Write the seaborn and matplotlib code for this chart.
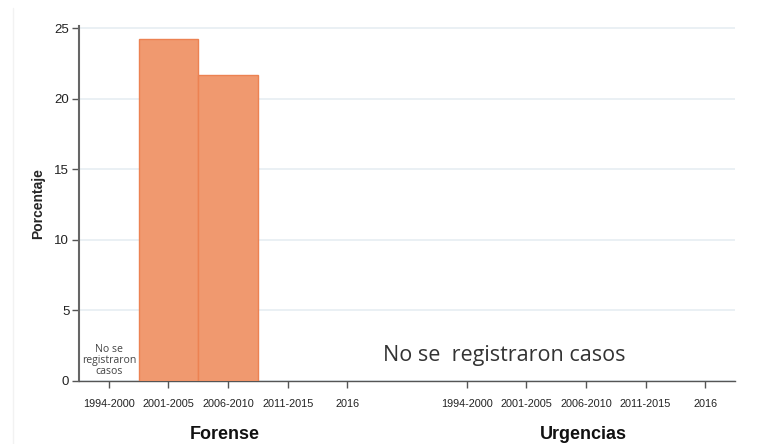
import numpy as np
import pandas as pd
import seaborn as sns
import matplotlib.pyplot as plt
from matplotlib.lines import Line2D

# ==========================================
# DATA
# ==========================================

periodos = ["1994-2000", "2001-2005", "2006-2010", "2011-2015", "2016"]
grupos = ["Forense", "Urgencias"]
forense = [np.nan, 24.2, 21.7, np.nan, np.nan]
urgencias = [np.nan, np.nan, np.nan, np.nan, np.nan]
y_ticks = [0, 5, 10, 15, 20, 25]

# ==========================================
# TABLE
# ==========================================

rows = []
for g, (grupo, valores) in enumerate(zip(grupos, [forense, urgencias])):
    for i, (periodo, v) in enumerate(zip(periodos, valores)):
        rows.append({
            "grupo": grupo,
            "periodo": periodo,
            "pos": g * (len(periodos) + 1) + i,
            "valor": v
        })
df = pd.DataFrame(rows)

# ==========================================
# PLOT
# ==========================================

sns.set_style("white")
plt.rcParams["font.family"] = ["Liberation Sans", "DejaVu Sans"]

fig = plt.figure(figsize=(7.62, 4.44), dpi=100)
ax = fig.add_axes([0.1037, 0.1419, 0.8609, 0.7995])

bars = df.dropna(subset=["valor"])
sns.barplot(
    data=bars,
    x="pos",
    y="valor",
    native_scale=True,
    width=1.0,
    color="#F0996F",
    saturation=1,
    edgecolor="#EC8252",
    linewidth=1.0,
    ax=ax,
    zorder=3
)

ax.set_xlim(-0.5, 10.5)
ax.set_ylim(0, 25.15)
ax.set_yticks(y_ticks)
ax.set_yticklabels([str(t) for t in y_ticks], fontsize=9.5, color="#222222")
ax.set_xticks(df["pos"])
ax.set_xticklabels(df["periodo"], fontsize=7.8, color="#222222")
ax.tick_params(axis="both", direction="out", length=5, width=1,
               color="#555555", bottom=True, left=True)
ax.tick_params(axis="x", pad=8)
ax.tick_params(axis="y", pad=2)

ax.grid(axis="y", color="#E6EDF2", linewidth=1.2, zorder=0)
ax.set_axisbelow(True)

for s in ["top", "right"]:
    ax.spines[s].set_visible(False)
ax.spines["left"].set_color("#666666")
ax.spines["left"].set_linewidth(1.5)
ax.spines["bottom"].set_color("#555555")
ax.spines["bottom"].set_linewidth(1.0)

ax.set_xlabel("")
ax.set_ylabel("Porcentaje", fontsize=10, fontweight="bold", labelpad=7)

# group titles
for g, grupo in enumerate(grupos):
    centro = g * (len(periodos) + 1) + (len(periodos) - 1) / 2
    ax.text(centro - 0.05, -0.152, grupo, transform=ax.get_xaxis_transform(),
            ha="center", va="center", fontsize=13, fontweight="bold",
            color="#111111")

# no-data notes
ax.text(0, 1.45, "No se\nregistraron\ncasos", ha="center", va="center",
        fontsize=7.6, color="#444444", family=["Open Sans", "DejaVu Sans"],
        linespacing=1.05)
ax.text(6.63, 1.8, "No se  registraron casos", ha="center", va="center",
        fontsize=15.5, color="#333333", family=["Open Sans", "DejaVu Sans"])

fig.add_artist(Line2D([13 / 762, 13 / 762], [0, 1 - 8 / 444],
                      transform=fig.transFigure, color="#F2F2F2", linewidth=1))

plt.savefig("out.png", dpi=100)
